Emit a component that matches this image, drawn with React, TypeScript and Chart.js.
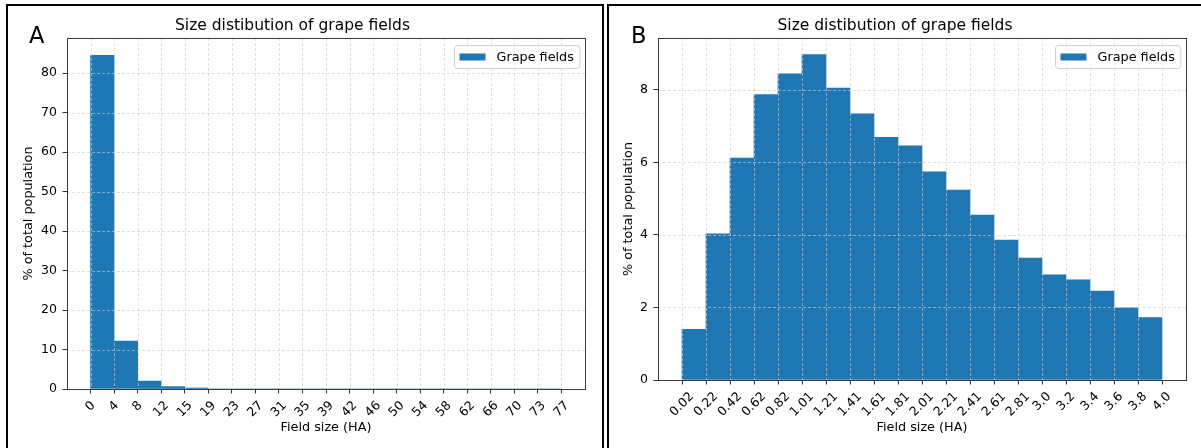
import React, { useEffect, useRef } from "react";
import { Chart, registerables } from "chart.js";

Chart.register(...registerables);

const FONT = "'DejaVu Sans', 'Noto Sans', sans-serif";
const BAR_COLOR = "#1f77b4";

const chartTitle = "Size distibution of grape fields";
const seriesLabel = "Grape fields";
const xAxisTitle = "Field size (HA)";
const yAxisTitle = "% of total population";

// Panel A
const edgeLabelsA = ["0", "4", "8", "12", "15", "19", "23", "27", "31", "35", "39", "42", "46", "50", "54", "58", "62", "66", "70", "73", "77"];
const valuesA = [84.5, 12.15, 2.0, 0.6, 0.25, 0, 0, 0, 0, 0, 0, 0, 0, 0, 0, 0, 0, 0, 0, 0];
const yTicksA = [0, 10, 20, 30, 40, 50, 60, 70, 80];
const yMaxA = 88.9;

// Panel B
const edgeLabelsB = ["0.02", "0.22", "0.42", "0.62", "0.82", "1.01", "1.21", "1.41", "1.61", "1.81", "2.01", "2.21", "2.41", "2.61", "2.81", "3.0", "3.2", "3.4", "3.6", "3.8", "4.0"];
const valuesB = [1.4, 4.03, 6.12, 7.87, 8.44, 8.97, 8.05, 7.34, 6.69, 6.46, 5.74, 5.24, 4.55, 3.86, 3.36, 2.9, 2.76, 2.45, 1.99, 1.72];
const yTicksB = [0, 2, 4, 6, 8];
const yMaxB = 9.43;

const mplOverlay = {
  id: "mplOverlay",
  afterDraw(chart: any, _args: any, opts: any) {
    const { ctx, chartArea: ca, scales } = chart;
    const xs = scales.x;
    const ys = scales.y;
    ctx.save();
    // grid on top of bars (dashed)
    ctx.strokeStyle = "rgba(205,205,205,0.7)";
    ctx.lineWidth = 0.9;
    ctx.setLineDash([3, 2]);
    ctx.beginPath();
    xs.ticks.forEach((t: any) => {
      const px = Math.round(xs.getPixelForValue(t.value)) + 0.5;
      ctx.moveTo(px, ca.top);
      ctx.lineTo(px, ca.bottom);
    });
    ys.ticks.forEach((t: any) => {
      const py = Math.round(ys.getPixelForValue(t.value)) + 0.5;
      ctx.moveTo(ca.left, py);
      ctx.lineTo(ca.right, py);
    });
    ctx.stroke();
    ctx.setLineDash([]);
    // frame
    ctx.strokeStyle = "#3a3a3a";
    ctx.lineWidth = 1;
    ctx.strokeRect(Math.round(ca.left) + 0.5, Math.round(ca.top) + 0.5, Math.round(ca.right) - Math.round(ca.left), Math.round(ca.bottom) - Math.round(ca.top));
    // rotated x tick labels, centred on the tick
    const labels: string[] = opts.xLabels;
    const fs = 12.5;
    ctx.font = `${fs}px ${FONT}`;
    ctx.fillStyle = "#000";
    xs.ticks.forEach((t: any, i: number) => {
      const px = xs.getPixelForValue(t.value);
      const w = ctx.measureText(labels[i]).width;
      const h = fs * 0.95;
      const bb = (w + h) * Math.SQRT1_2;
      const cy = ca.bottom + 10.5 + bb / 2;
      ctx.save();
      ctx.translate(px, cy);
      ctx.rotate(-Math.PI / 4);
      ctx.textAlign = "center";
      ctx.textBaseline = "middle";
      ctx.fillText(labels[i], 0, 0);
      ctx.restore();
    });
    // legend box inside the plot, top-right
    const lfs = 12.8;
    ctx.font = `${lfs}px ${FONT}`;
    const tw = ctx.measureText(opts.label).width;
    const bw = 5 + 26 + 11 + tw + 6;
    const bh = 23;
    const bx = Math.round(ca.right - 6 - bw) + 0.5;
    const by = Math.round(ca.top + 7) + 0.5;
    ctx.beginPath();
    (ctx as any).roundRect(bx, by, bw, bh, 3);
    ctx.fillStyle = "rgba(255,255,255,0.8)";
    ctx.fill();
    ctx.strokeStyle = "#d0d0d0";
    ctx.lineWidth = 1;
    ctx.stroke();
    ctx.fillStyle = BAR_COLOR;
    ctx.fillRect(bx + 5, by + bh / 2 - 3.5, 26, 7);
    ctx.fillStyle = "#000";
    ctx.textAlign = "left";
    ctx.textBaseline = "middle";
    ctx.fillText(opts.label, bx + 42, by + bh / 2 + 0.5);
    ctx.restore();
  },
};

function makeConfig(edges: string[], values: number[], yTicks: number[], yMax: number, yAxisWidth: number, padRight: number, yTitleX: number, plotBottom: number): any {
  const axisFont = { family: FONT, size: 12.8 };
  const tickGrid = { offset: false, drawOnChartArea: false, drawTicks: true, tickLength: 4.5, tickColor: "#333", tickWidth: 1 };
  return {
    type: "bar",
    data: {
      datasets: [
        {
          label: seriesLabel,
          data: values.map((v, i) => ({ x: i + 0.5, y: v })),
          backgroundColor: BAR_COLOR,
          borderWidth: 0,
          barPercentage: 1,
          categoryPercentage: 1,
        },
      ],
    },
    options: {
      animation: false,
      responsive: false,
      maintainAspectRatio: false,
      events: [],
      layout: { padding: { left: 0, right: padRight, top: 0, bottom: 0 } },
      plugins: {
        legend: { display: false },
        tooltip: { enabled: false },
        title: {
          display: true,
          text: chartTitle,
          color: "#000",
          font: { family: FONT, size: 15.5, weight: "normal" },
          padding: { top: 16.3, bottom: 3.1 },
        },
        mplOverlay: { xLabels: edges, label: seriesLabel },
      },
      scales: {
        x: {
          type: "linear",
          offset: false,
          min: -1,
          max: edges.length,
          afterBuildTicks: (s: any) => {
            s.ticks = edges.map((_, i) => ({ value: i }));
          },
          ticks: { display: false },
          grid: tickGrid,
          border: { display: false },
          title: { display: true, text: xAxisTitle, color: "#000", font: axisFont, padding: { top: 0, bottom: 12.3 } },
          afterFit: (s: any) => {
            s.height = 448 - plotBottom;
          },
        },
        y: {
          type: "linear",
          min: 0,
          max: yMax,
          afterBuildTicks: (s: any) => {
            s.ticks = yTicks.map((v) => ({ value: v }));
          },
          ticks: { color: "#000", font: { family: FONT, size: 12.5 }, padding: 5.5, callback: (v: any) => String(v) },
          grid: tickGrid,
          border: { display: false },
          title: { display: true, text: yAxisTitle, color: "#000", font: axisFont, padding: { top: yTitleX - 7.68, bottom: 0 } },
          afterFit: (s: any) => {
            s.width = yAxisWidth;
          },
        },
      },
    },
    plugins: [mplOverlay],
  };
}

function Panel(props: { left: number; width: number; config: any }) {
  const ref = useRef<HTMLCanvasElement | null>(null);
  useEffect(() => {
    if (!ref.current) return;
    const chart = new Chart(ref.current, props.config);
    return () => chart.destroy();
  }, []);
  return (
    <canvas
      ref={ref}
      width={props.width}
      height={448}
      style={{ position: "absolute", left: props.left, top: 0, width: props.width, height: 448 }}
    />
  );
}

export default function App() {
  const cfgA = makeConfig(edgeLabelsA, valuesA, yTicksA, yMaxA, 67, 67, 29, 389);
  const cfgB = makeConfig(edgeLabelsB, valuesB, yTicksB, yMaxB, 54, 54, 24.5, 380);
  const letter: React.CSSProperties = {
    position: "absolute",
    fontFamily: FONT,
    fontSize: 22.5,
    lineHeight: "22px",
    color: "#000",
  };
  return (
    <div style={{ position: "fixed", left: 0, top: 0, width: 1201, height: 448, overflow: "hidden", background: "#fff" }}>
      <Panel left={0} width={652} config={cfgA} />
      <Panel left={604} width={636} config={cfgB} />
      <div style={{ position: "absolute", left: 6, top: 4, width: 598, height: 500, border: "2px solid #000", boxSizing: "border-box", pointerEvents: "none" }} />
      <div style={{ position: "absolute", left: 607, top: 4, width: 700, height: 500, border: "2px solid #000", boxSizing: "border-box", pointerEvents: "none" }} />
      <div style={{ ...letter, left: 29, top: 24 }}>A</div>
      <div style={{ ...letter, left: 631, top: 24 }}>B</div>
    </div>
  );
}
